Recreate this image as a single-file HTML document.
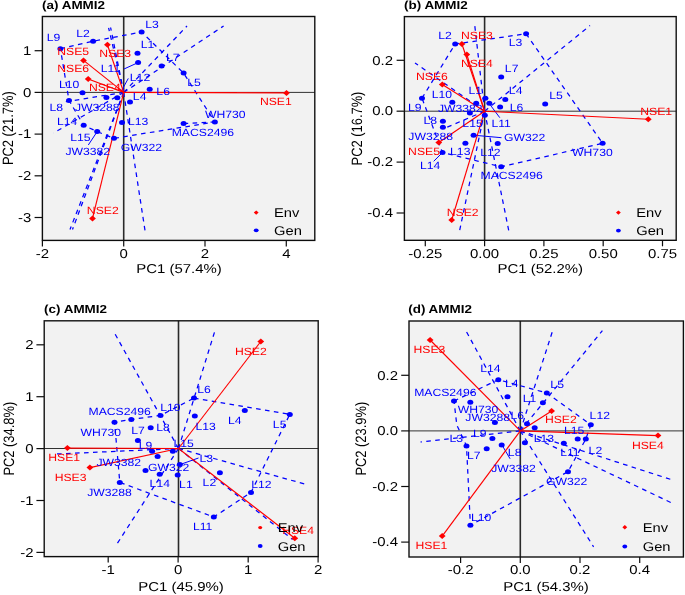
<!DOCTYPE html><html><head><meta charset="utf-8"><style>html,body{margin:0;padding:0;background:#fff;}svg{display:block;will-change:transform;font-family:"Liberation Sans",sans-serif;-webkit-font-smoothing:antialiased;}text{text-rendering:geometricPrecision;}</style></head><body>
<svg width="685" height="595" viewBox="0 0 685 595">
<defs><filter id="bl" filterUnits="userSpaceOnUse" x="0" y="0" width="685" height="595"><feGaussianBlur stdDeviation="0.35"/></filter></defs>
<rect width="685" height="595" fill="#fff"/>
<g filter="url(#bl)">
<rect x="42.4" y="16.5" width="272.40000000000003" height="223.9" fill="#f2f2f2"/>
<line x1="42.4" y1="92.4" x2="314.8" y2="92.4" stroke="#333" stroke-width="1.0"/>
<line x1="123.7" y1="16.5" x2="123.7" y2="240.4" stroke="#2a2a2a" stroke-width="1.6"/>
<polyline points="123.7,92.4 187.0,26.0" fill="none" stroke="#0000ff" stroke-width="1.25" stroke-dasharray="4.6 4.4"/>
<polyline points="123.7,92.4 223.6,26.0" fill="none" stroke="#0000ff" stroke-width="1.25" stroke-dasharray="4.6 4.4"/>
<polyline points="123.7,92.4 110.6,27.5" fill="none" stroke="#0000ff" stroke-width="1.25" stroke-dasharray="4.6 4.4"/>
<polyline points="123.7,92.4 108.6,27.8" fill="none" stroke="#0000ff" stroke-width="1.25" stroke-dasharray="4.6 4.4"/>
<polyline points="123.7,92.4 53.5,133.0" fill="none" stroke="#0000ff" stroke-width="1.25" stroke-dasharray="4.6 4.4"/>
<polyline points="123.7,92.4 64.0,102.0" fill="none" stroke="#0000ff" stroke-width="1.25" stroke-dasharray="4.6 4.4"/>
<polyline points="123.7,92.4 72.5,229.5" fill="none" stroke="#0000ff" stroke-width="1.25" stroke-dasharray="4.6 4.4"/>
<polyline points="123.7,92.4 70.0,229.5" fill="none" stroke="#0000ff" stroke-width="1.25" stroke-dasharray="4.6 4.4"/>
<polyline points="123.7,92.4 145.0,230.4" fill="none" stroke="#0000ff" stroke-width="1.25" stroke-dasharray="4.6 4.4"/>
<polyline points="183.6,123.5 214.9,122.0" fill="none" stroke="#0000ff" stroke-width="1.25" stroke-dasharray="4.6 4.4"/>
<polyline points="60.4,48.7 93.1,41.2 141.6,32.0 183.6,73.1 214.9,122.0 114.0,138.3 97.2,131.6 83.7,125.3 69.0,100.4 60.4,48.7" fill="none" stroke="#0000ff" stroke-width="1.25" stroke-dasharray="4.6 4.4"/>
<polyline points="124.0,69.0 138.1,62.6" fill="none" stroke="#0000ff" stroke-width="1.0"/>
<polyline points="97.2,131.6 88.3,145.0" fill="none" stroke="#0000ff" stroke-width="1.0"/>
<polyline points="121.8,90.2 128.3,78.4" fill="none" stroke="#0000ff" stroke-width="1.0"/>
<line x1="123.7" y1="92.4" x2="286.5" y2="92.9" stroke="#ff0000" stroke-width="1.15"/>
<line x1="123.7" y1="92.4" x2="92.5" y2="218.4" stroke="#ff0000" stroke-width="1.15"/>
<line x1="123.7" y1="92.4" x2="107.4" y2="44.7" stroke="#ff0000" stroke-width="1.15"/>
<line x1="123.7" y1="92.4" x2="83.5" y2="60.4" stroke="#ff0000" stroke-width="1.15"/>
<line x1="123.7" y1="92.4" x2="88.2" y2="79.0" stroke="#ff0000" stroke-width="1.15"/>
<line x1="123.7" y1="92.4" x2="119.0" y2="89.0" stroke="#ff0000" stroke-width="1.15"/>
<path d="M283.1,92.9L286.5,89.9L289.9,92.9L286.5,95.9Z" fill="#ff0000"/>
<path d="M89.1,218.4L92.5,215.4L95.9,218.4L92.5,221.4Z" fill="#ff0000"/>
<path d="M104.0,44.7L107.4,41.7L110.8,44.7L107.4,47.7Z" fill="#ff0000"/>
<path d="M80.1,60.4L83.5,57.4L86.9,60.4L83.5,63.4Z" fill="#ff0000"/>
<path d="M84.8,79.0L88.2,76.0L91.6,79.0L88.2,82.0Z" fill="#ff0000"/>
<ellipse cx="60.4" cy="48.7" rx="3.0" ry="2.5" fill="#0000ff"/>
<ellipse cx="93.1" cy="41.2" rx="3.0" ry="2.5" fill="#0000ff"/>
<ellipse cx="141.6" cy="32.0" rx="3.0" ry="2.5" fill="#0000ff"/>
<ellipse cx="137.5" cy="53.2" rx="3.0" ry="2.5" fill="#0000ff"/>
<ellipse cx="138.1" cy="62.6" rx="3.0" ry="2.5" fill="#0000ff"/>
<ellipse cx="161.6" cy="66.1" rx="3.0" ry="2.5" fill="#0000ff"/>
<ellipse cx="183.6" cy="73.1" rx="3.0" ry="2.5" fill="#0000ff"/>
<ellipse cx="82.5" cy="92.7" rx="3.0" ry="2.5" fill="#0000ff"/>
<ellipse cx="149.7" cy="89.2" rx="3.0" ry="2.5" fill="#0000ff"/>
<ellipse cx="69.0" cy="100.4" rx="3.0" ry="2.5" fill="#0000ff"/>
<ellipse cx="106.4" cy="97.4" rx="3.0" ry="2.5" fill="#0000ff"/>
<ellipse cx="117.3" cy="97.8" rx="3.0" ry="2.5" fill="#0000ff"/>
<ellipse cx="130.0" cy="101.9" rx="3.0" ry="2.5" fill="#0000ff"/>
<ellipse cx="83.7" cy="125.3" rx="3.0" ry="2.5" fill="#0000ff"/>
<ellipse cx="122.0" cy="122.5" rx="3.0" ry="2.5" fill="#0000ff"/>
<ellipse cx="97.2" cy="131.6" rx="3.0" ry="2.5" fill="#0000ff"/>
<ellipse cx="114.0" cy="138.3" rx="3.0" ry="2.5" fill="#0000ff"/>
<ellipse cx="183.6" cy="123.5" rx="3.0" ry="2.5" fill="#0000ff"/>
<ellipse cx="214.9" cy="122.0" rx="3.0" ry="2.5" fill="#0000ff"/>
<text transform="scale(1.16,1)" x="46.12" y="41.1" font-size="10.5" fill="#0000ff" text-anchor="middle">L9</text>
<text transform="scale(1.16,1)" x="71.47" y="37.0" font-size="10.5" fill="#0000ff" text-anchor="middle">L2</text>
<text transform="scale(1.16,1)" x="131.12" y="27.8" font-size="10.5" fill="#0000ff" text-anchor="middle">L3</text>
<text transform="scale(1.16,1)" x="127.16" y="48.2" font-size="10.5" fill="#0000ff" text-anchor="middle">L1</text>
<text transform="scale(1.16,1)" x="95.26" y="71.7" font-size="10.5" fill="#0000ff" text-anchor="middle">L11</text>
<text transform="scale(1.16,1)" x="120.69" y="80.9" font-size="10.5" fill="#0000ff" text-anchor="middle">L12</text>
<text transform="scale(1.16,1)" x="59.57" y="88.1" font-size="10.5" fill="#0000ff" text-anchor="middle">L10</text>
<text transform="scale(1.16,1)" x="140.65" y="95.2" font-size="10.5" fill="#0000ff" text-anchor="middle">L6</text>
<text transform="scale(1.16,1)" x="48.58" y="110.5" font-size="10.5" fill="#0000ff" text-anchor="middle">L8</text>
<text transform="scale(1.16,1)" x="83.84" y="110.5" font-size="10.5" fill="#0000ff" text-anchor="middle">JW3288</text>
<text transform="scale(1.16,1)" x="120.39" y="100.4" font-size="10.5" fill="#0000ff" text-anchor="middle">L4</text>
<text transform="scale(1.16,1)" x="57.84" y="124.9" font-size="10.5" fill="#0000ff" text-anchor="middle">L14</text>
<text transform="scale(1.16,1)" x="119.05" y="124.9" font-size="10.5" fill="#0000ff" text-anchor="middle">L13</text>
<text transform="scale(1.16,1)" x="149.01" y="60.5" font-size="10.5" fill="#0000ff" text-anchor="middle">L7</text>
<text transform="scale(1.16,1)" x="167.33" y="85.8" font-size="10.5" fill="#0000ff" text-anchor="middle">L5</text>
<text transform="scale(1.16,1)" x="194.18" y="117.5" font-size="10.5" fill="#0000ff" text-anchor="middle">WH730</text>
<text transform="scale(1.16,1)" x="174.87" y="136.3" font-size="10.5" fill="#0000ff" text-anchor="middle">MACS2496</text>
<text transform="scale(1.16,1)" x="69.40" y="140.5" font-size="10.5" fill="#0000ff" text-anchor="middle">L15</text>
<text transform="scale(1.16,1)" x="75.69" y="155.2" font-size="10.5" fill="#0000ff" text-anchor="middle">JW3382</text>
<text transform="scale(1.16,1)" x="121.98" y="151.0" font-size="10.5" fill="#0000ff" text-anchor="middle">GW322</text>
<text transform="scale(1.16,1)" x="99.27" y="56.5" font-size="10.5" fill="#ff0000" text-anchor="middle">NSE3</text>
<text transform="scale(1.16,1)" x="63.10" y="55.4" font-size="10.5" fill="#ff0000" text-anchor="middle">NSE5</text>
<text transform="scale(1.16,1)" x="63.10" y="71.7" font-size="10.5" fill="#ff0000" text-anchor="middle">NSE6</text>
<text transform="scale(1.16,1)" x="90.39" y="90.8" font-size="10.5" fill="#ff0000" text-anchor="middle">NSE4</text>
<text transform="scale(1.16,1)" x="237.80" y="105.0" font-size="10.5" fill="#ff0000" text-anchor="middle">NSE1</text>
<text transform="scale(1.16,1)" x="88.58" y="214.1" font-size="10.5" fill="#ff0000" text-anchor="middle">NSE2</text>
<rect x="42.4" y="16.5" width="272.40000000000003" height="223.9" fill="none" stroke="#111" stroke-width="1.4"/>
<line x1="42.4" y1="240.4" x2="42.4" y2="246.4" stroke="#111" stroke-width="1.2"/>
<text transform="scale(1.16,1)" x="36.55" y="257.7" font-size="12.9" fill="#000" text-anchor="middle">-2</text>
<line x1="123.7" y1="240.4" x2="123.7" y2="246.4" stroke="#111" stroke-width="1.2"/>
<text transform="scale(1.16,1)" x="106.64" y="257.7" font-size="12.9" fill="#000" text-anchor="middle">0</text>
<line x1="205.0" y1="240.4" x2="205.0" y2="246.4" stroke="#111" stroke-width="1.2"/>
<text transform="scale(1.16,1)" x="176.72" y="257.7" font-size="12.9" fill="#000" text-anchor="middle">2</text>
<line x1="286.3" y1="240.4" x2="286.3" y2="246.4" stroke="#111" stroke-width="1.2"/>
<text transform="scale(1.16,1)" x="246.81" y="257.7" font-size="12.9" fill="#000" text-anchor="middle">4</text>
<line x1="34.6" y1="50.7" x2="42.4" y2="50.7" stroke="#111" stroke-width="1.2"/>
<text transform="scale(1.16,1)" x="26.98" y="54.9" font-size="12.9" fill="#000" text-anchor="end">1</text>
<line x1="34.6" y1="92.4" x2="42.4" y2="92.4" stroke="#111" stroke-width="1.2"/>
<text transform="scale(1.16,1)" x="26.98" y="96.6" font-size="12.9" fill="#000" text-anchor="end">0</text>
<line x1="34.6" y1="134.1" x2="42.4" y2="134.1" stroke="#111" stroke-width="1.2"/>
<text transform="scale(1.16,1)" x="26.98" y="138.3" font-size="12.9" fill="#000" text-anchor="end">-1</text>
<line x1="34.6" y1="175.8" x2="42.4" y2="175.8" stroke="#111" stroke-width="1.2"/>
<text transform="scale(1.16,1)" x="26.98" y="180.0" font-size="12.9" fill="#000" text-anchor="end">-2</text>
<line x1="34.6" y1="217.5" x2="42.4" y2="217.5" stroke="#111" stroke-width="1.2"/>
<text transform="scale(1.16,1)" x="26.98" y="221.7" font-size="12.9" fill="#000" text-anchor="end">-3</text>
<text transform="scale(1.16,1)" x="36.21" y="8.5" font-size="11.6" font-weight="bold" fill="#000" text-anchor="start">(a) AMMI2</text>
<text transform="scale(1.16,1)" x="154.31" y="272.5" font-size="12.9" fill="#000" text-anchor="middle">PC1 (57.4%)</text>
<text transform="translate(12.5,128.2) scale(1.16,1) rotate(-90)" x="0" y="0" font-size="12.9" fill="#000" text-anchor="middle">PC2 (21.7%)</text>
<path d="M253.8,212.6L256.2,210.4L258.6,212.6L256.2,214.8Z" fill="#ff0000"/>
<ellipse cx="256.2" cy="230.3" rx="2.4" ry="1.9" fill="#0000ff"/>
<text transform="scale(1.16,1)" x="236.21" y="217.2" font-size="12.7" fill="#000" text-anchor="start">Env</text>
<text transform="scale(1.16,1)" x="236.21" y="234.9" font-size="12.7" fill="#000" text-anchor="start">Gen</text>
<rect x="404.4" y="16.6" width="271.80000000000007" height="223.70000000000002" fill="#f2f2f2"/>
<line x1="404.4" y1="111.2" x2="676.2" y2="111.2" stroke="#333" stroke-width="1.0"/>
<line x1="484.6" y1="16.6" x2="484.6" y2="240.3" stroke="#2a2a2a" stroke-width="1.6"/>
<polyline points="484.6,111.2 590.0,25.6" fill="none" stroke="#0000ff" stroke-width="1.25" stroke-dasharray="4.6 4.4"/>
<polyline points="484.6,111.2 474.7,25.0" fill="none" stroke="#0000ff" stroke-width="1.25" stroke-dasharray="4.6 4.4"/>
<polyline points="484.6,111.2 415.0,63.0" fill="none" stroke="#0000ff" stroke-width="1.25" stroke-dasharray="4.6 4.4"/>
<polyline points="484.6,111.2 459.7,230.3" fill="none" stroke="#0000ff" stroke-width="1.25" stroke-dasharray="4.6 4.4"/>
<polyline points="484.6,111.2 508.7,230.3" fill="none" stroke="#0000ff" stroke-width="1.25" stroke-dasharray="4.6 4.4"/>
<polyline points="484.6,111.2 444.0,128.5" fill="none" stroke="#0000ff" stroke-width="1.25" stroke-dasharray="4.6 4.4"/>
<polyline points="489.1,103.4 499.8,117.7" fill="none" stroke="#0000ff" stroke-width="1.0"/>
<polyline points="473.5,135.2 501.5,137.7" fill="none" stroke="#0000ff" stroke-width="1.0"/>
<polyline points="442.5,152.5 433.7,161.3" fill="none" stroke="#0000ff" stroke-width="1.0"/>
<polyline points="422.0,98.2 455.2,44.0 526.1,33.8 602.6,143.3 501.2,166.8 442.5,152.5 422.0,98.2" fill="none" stroke="#0000ff" stroke-width="1.25" stroke-dasharray="4.6 4.4"/>
<line x1="484.6" y1="111.2" x2="461.9" y2="44.0" stroke="#ff0000" stroke-width="1.15"/>
<path d="M458.5,44.0L461.9,41.0L465.3,44.0L461.9,47.0Z" fill="#ff0000"/>
<line x1="484.6" y1="111.2" x2="466.8" y2="54.5" stroke="#ff0000" stroke-width="1.15"/>
<path d="M463.4,54.5L466.8,51.5L470.2,54.5L466.8,57.5Z" fill="#ff0000"/>
<line x1="484.6" y1="111.2" x2="442.3" y2="84.5" stroke="#ff0000" stroke-width="1.15"/>
<path d="M438.9,84.5L442.3,81.5L445.7,84.5L442.3,87.5Z" fill="#ff0000"/>
<line x1="484.6" y1="111.2" x2="648.3" y2="119.2" stroke="#ff0000" stroke-width="1.15"/>
<path d="M644.9,119.2L648.3,116.2L651.7,119.2L648.3,122.2Z" fill="#ff0000"/>
<line x1="484.6" y1="111.2" x2="438.8" y2="142.5" stroke="#ff0000" stroke-width="1.15"/>
<path d="M435.4,142.5L438.8,139.5L442.2,142.5L438.8,145.5Z" fill="#ff0000"/>
<line x1="484.6" y1="111.2" x2="451.7" y2="220.0" stroke="#ff0000" stroke-width="1.15"/>
<path d="M448.3,220.0L451.7,217.0L455.1,220.0L451.7,223.0Z" fill="#ff0000"/>
<ellipse cx="455.2" cy="44.0" rx="3.0" ry="2.5" fill="#0000ff"/>
<ellipse cx="526.1" cy="33.8" rx="3.0" ry="2.5" fill="#0000ff"/>
<ellipse cx="501.2" cy="77.0" rx="3.0" ry="2.5" fill="#0000ff"/>
<ellipse cx="452.3" cy="102.3" rx="3.0" ry="2.5" fill="#0000ff"/>
<ellipse cx="422.0" cy="98.2" rx="3.0" ry="2.5" fill="#0000ff"/>
<ellipse cx="485.4" cy="98.2" rx="3.0" ry="2.5" fill="#0000ff"/>
<ellipse cx="505.3" cy="99.4" rx="3.0" ry="2.5" fill="#0000ff"/>
<ellipse cx="489.3" cy="103.3" rx="3.0" ry="2.5" fill="#0000ff"/>
<ellipse cx="476.2" cy="103.3" rx="3.0" ry="2.5" fill="#0000ff"/>
<ellipse cx="500.1" cy="107.0" rx="3.0" ry="2.5" fill="#0000ff"/>
<ellipse cx="469.9" cy="113.1" rx="3.0" ry="2.5" fill="#0000ff"/>
<ellipse cx="442.9" cy="121.3" rx="3.0" ry="2.5" fill="#0000ff"/>
<ellipse cx="442.9" cy="127.2" rx="3.0" ry="2.5" fill="#0000ff"/>
<ellipse cx="442.5" cy="152.5" rx="3.0" ry="2.5" fill="#0000ff"/>
<ellipse cx="465.4" cy="143.3" rx="3.0" ry="2.5" fill="#0000ff"/>
<ellipse cx="473.6" cy="135.2" rx="3.0" ry="2.5" fill="#0000ff"/>
<ellipse cx="484.8" cy="115.3" rx="3.0" ry="2.5" fill="#0000ff"/>
<ellipse cx="497.7" cy="143.5" rx="3.0" ry="2.5" fill="#0000ff"/>
<ellipse cx="501.2" cy="166.8" rx="3.0" ry="2.5" fill="#0000ff"/>
<ellipse cx="602.6" cy="143.3" rx="3.0" ry="2.5" fill="#0000ff"/>
<ellipse cx="545.2" cy="104.0" rx="3.0" ry="2.5" fill="#0000ff"/>
<text transform="scale(1.16,1)" x="383.58" y="39.0" font-size="10.5" fill="#0000ff" text-anchor="middle">L2</text>
<text transform="scale(1.16,1)" x="444.40" y="46.2" font-size="10.5" fill="#0000ff" text-anchor="middle">L3</text>
<text transform="scale(1.16,1)" x="441.08" y="71.7" font-size="10.5" fill="#0000ff" text-anchor="middle">L7</text>
<text transform="scale(1.16,1)" x="380.95" y="97.7" font-size="10.5" fill="#0000ff" text-anchor="middle">L10</text>
<text transform="scale(1.16,1)" x="357.63" y="111.0" font-size="10.5" fill="#0000ff" text-anchor="middle">L9</text>
<text transform="scale(1.16,1)" x="409.74" y="94.2" font-size="10.5" fill="#0000ff" text-anchor="middle">L1</text>
<text transform="scale(1.16,1)" x="444.53" y="94.2" font-size="10.5" fill="#0000ff" text-anchor="middle">L4</text>
<text transform="scale(1.16,1)" x="445.26" y="110.5" font-size="10.5" fill="#0000ff" text-anchor="middle">L6</text>
<text transform="scale(1.16,1)" x="396.81" y="111.5" font-size="10.5" fill="#0000ff" text-anchor="middle">JW3382</text>
<text transform="scale(1.16,1)" x="371.03" y="123.6" font-size="10.5" fill="#0000ff" text-anchor="middle">L8</text>
<text transform="scale(1.16,1)" x="479.27" y="98.6" font-size="10.5" fill="#0000ff" text-anchor="middle">L5</text>
<text transform="scale(1.16,1)" x="371.25" y="140.4" font-size="10.5" fill="#0000ff" text-anchor="middle">JW3288</text>
<text transform="scale(1.16,1)" x="370.82" y="169.4" font-size="10.5" fill="#0000ff" text-anchor="middle">L14</text>
<text transform="scale(1.16,1)" x="396.77" y="155.1" font-size="10.5" fill="#0000ff" text-anchor="middle">L13</text>
<text transform="scale(1.16,1)" x="407.37" y="127.1" font-size="10.5" fill="#0000ff" text-anchor="middle">L15</text>
<text transform="scale(1.16,1)" x="432.07" y="127.1" font-size="10.5" fill="#0000ff" text-anchor="middle">L11</text>
<text transform="scale(1.16,1)" x="452.37" y="141.4" font-size="10.5" fill="#0000ff" text-anchor="middle">GW322</text>
<text transform="scale(1.16,1)" x="422.76" y="155.7" font-size="10.5" fill="#0000ff" text-anchor="middle">L12</text>
<text transform="scale(1.16,1)" x="441.12" y="179.2" font-size="10.5" fill="#0000ff" text-anchor="middle">MACS2496</text>
<text transform="scale(1.16,1)" x="510.69" y="155.7" font-size="10.5" fill="#0000ff" text-anchor="middle">WH730</text>
<text transform="scale(1.16,1)" x="411.16" y="39.0" font-size="10.5" fill="#ff0000" text-anchor="middle">NSE3</text>
<text transform="scale(1.16,1)" x="411.16" y="67.0" font-size="10.5" fill="#ff0000" text-anchor="middle">NSE4</text>
<text transform="scale(1.16,1)" x="372.41" y="79.9" font-size="10.5" fill="#ff0000" text-anchor="middle">NSE6</text>
<text transform="scale(1.16,1)" x="565.65" y="114.7" font-size="10.5" fill="#ff0000" text-anchor="middle">NSE1</text>
<text transform="scale(1.16,1)" x="365.56" y="155.1" font-size="10.5" fill="#ff0000" text-anchor="middle">NSE5</text>
<text transform="scale(1.16,1)" x="398.92" y="215.8" font-size="10.5" fill="#ff0000" text-anchor="middle">NSE2</text>
<rect x="404.4" y="16.6" width="271.80000000000007" height="223.70000000000002" fill="none" stroke="#111" stroke-width="1.4"/>
<line x1="425.3" y1="240.3" x2="425.3" y2="246.3" stroke="#111" stroke-width="1.2"/>
<text transform="scale(1.16,1)" x="366.64" y="257.6" font-size="12.9" fill="#000" text-anchor="middle">-0.25</text>
<line x1="484.6" y1="240.3" x2="484.6" y2="246.3" stroke="#111" stroke-width="1.2"/>
<text transform="scale(1.16,1)" x="417.76" y="257.6" font-size="12.9" fill="#000" text-anchor="middle">0.00</text>
<line x1="543.9" y1="240.3" x2="543.9" y2="246.3" stroke="#111" stroke-width="1.2"/>
<text transform="scale(1.16,1)" x="468.88" y="257.6" font-size="12.9" fill="#000" text-anchor="middle">0.25</text>
<line x1="603.2" y1="240.3" x2="603.2" y2="246.3" stroke="#111" stroke-width="1.2"/>
<text transform="scale(1.16,1)" x="520.00" y="257.6" font-size="12.9" fill="#000" text-anchor="middle">0.50</text>
<line x1="662.5" y1="240.3" x2="662.5" y2="246.3" stroke="#111" stroke-width="1.2"/>
<text transform="scale(1.16,1)" x="571.12" y="257.6" font-size="12.9" fill="#000" text-anchor="middle">0.75</text>
<line x1="396.6" y1="60.3" x2="404.4" y2="60.3" stroke="#111" stroke-width="1.2"/>
<text transform="scale(1.16,1)" x="338.79" y="64.5" font-size="12.9" fill="#000" text-anchor="end">0.2</text>
<line x1="396.6" y1="111.2" x2="404.4" y2="111.2" stroke="#111" stroke-width="1.2"/>
<text transform="scale(1.16,1)" x="338.79" y="115.4" font-size="12.9" fill="#000" text-anchor="end">0.0</text>
<line x1="396.6" y1="162.1" x2="404.4" y2="162.1" stroke="#111" stroke-width="1.2"/>
<text transform="scale(1.16,1)" x="338.79" y="166.3" font-size="12.9" fill="#000" text-anchor="end">-0.2</text>
<line x1="396.6" y1="213.0" x2="404.4" y2="213.0" stroke="#111" stroke-width="1.2"/>
<text transform="scale(1.16,1)" x="338.79" y="217.2" font-size="12.9" fill="#000" text-anchor="end">-0.4</text>
<text transform="scale(1.16,1)" x="348.28" y="8.5" font-size="11.6" font-weight="bold" fill="#000" text-anchor="start">(b) AMMI2</text>
<text transform="scale(1.16,1)" x="465.78" y="272.5" font-size="12.9" fill="#000" text-anchor="middle">PC1 (52.2%)</text>
<text transform="translate(361.8,128.5) scale(1.16,1) rotate(-90)" x="0" y="0" font-size="12.9" fill="#000" text-anchor="middle">PC2 (16.7%)</text>
<path d="M616.0,212.6L618.4,210.4L620.8,212.6L618.4,214.8Z" fill="#ff0000"/>
<ellipse cx="618.4" cy="230.6" rx="2.4" ry="1.9" fill="#0000ff"/>
<text transform="scale(1.16,1)" x="548.45" y="217.2" font-size="12.7" fill="#000" text-anchor="start">Env</text>
<text transform="scale(1.16,1)" x="548.45" y="235.2" font-size="12.7" fill="#000" text-anchor="start">Gen</text>
<rect x="44.2" y="320.8" width="274.0" height="235.8" fill="#f2f2f2"/>
<line x1="44.2" y1="448.5" x2="318.2" y2="448.5" stroke="#333" stroke-width="1.0"/>
<line x1="178.5" y1="320.8" x2="178.5" y2="556.6" stroke="#2a2a2a" stroke-width="1.6"/>
<polyline points="178.5,448.5 113.5,331.2" fill="none" stroke="#0000ff" stroke-width="1.25" stroke-dasharray="4.6 4.4"/>
<polyline points="178.5,448.5 214.8,331.2" fill="none" stroke="#0000ff" stroke-width="1.25" stroke-dasharray="4.6 4.4"/>
<polyline points="178.5,448.5 307.7,484.9" fill="none" stroke="#0000ff" stroke-width="1.25" stroke-dasharray="4.6 4.4"/>
<polyline points="178.5,448.5 292.6,539.5" fill="none" stroke="#0000ff" stroke-width="1.25" stroke-dasharray="4.6 4.4"/>
<polyline points="178.5,448.5 115.4,546.4" fill="none" stroke="#0000ff" stroke-width="1.25" stroke-dasharray="4.6 4.4"/>
<polyline points="178.5,448.5 57.0,454.0" fill="none" stroke="#0000ff" stroke-width="1.25" stroke-dasharray="4.6 4.4"/>
<polyline points="179.9,464.6 198.5,458.0" fill="none" stroke="#0000ff" stroke-width="1.0"/>
<polyline points="194.0,398.1 289.8,414.4 251.0,492.4 213.8,517.0 119.8,482.4 116.0,438.7 114.5,422.2 131.3,419.5 160.5,415.4 194.0,398.1" fill="none" stroke="#0000ff" stroke-width="1.25" stroke-dasharray="4.6 4.4"/>
<line x1="178.5" y1="448.5" x2="260.8" y2="341.5" stroke="#ff0000" stroke-width="1.15"/>
<path d="M257.4,341.5L260.8,338.5L264.2,341.5L260.8,344.5Z" fill="#ff0000"/>
<line x1="178.5" y1="448.5" x2="67.4" y2="448.1" stroke="#ff0000" stroke-width="1.15"/>
<path d="M64.0,448.1L67.4,445.1L70.8,448.1L67.4,451.1Z" fill="#ff0000"/>
<line x1="178.5" y1="448.5" x2="89.9" y2="467.6" stroke="#ff0000" stroke-width="1.15"/>
<path d="M86.5,467.6L89.9,464.6L93.3,467.6L89.9,470.6Z" fill="#ff0000"/>
<line x1="178.5" y1="448.5" x2="294.8" y2="538.2" stroke="#ff0000" stroke-width="1.15"/>
<path d="M291.4,538.2L294.8,535.2L298.2,538.2L294.8,541.2Z" fill="#ff0000"/>
<ellipse cx="131.3" cy="419.5" rx="3.0" ry="2.5" fill="#0000ff"/>
<ellipse cx="160.5" cy="415.4" rx="3.0" ry="2.5" fill="#0000ff"/>
<ellipse cx="114.5" cy="422.2" rx="3.0" ry="2.5" fill="#0000ff"/>
<ellipse cx="137.9" cy="440.5" rx="3.0" ry="2.5" fill="#0000ff"/>
<ellipse cx="150.7" cy="427.7" rx="3.0" ry="2.5" fill="#0000ff"/>
<ellipse cx="194.0" cy="398.1" rx="3.0" ry="2.5" fill="#0000ff"/>
<ellipse cx="194.8" cy="416.0" rx="3.0" ry="2.5" fill="#0000ff"/>
<ellipse cx="244.8" cy="410.5" rx="3.0" ry="2.5" fill="#0000ff"/>
<ellipse cx="289.8" cy="414.4" rx="3.0" ry="2.5" fill="#0000ff"/>
<ellipse cx="152.1" cy="451.2" rx="3.0" ry="2.5" fill="#0000ff"/>
<ellipse cx="157.6" cy="456.6" rx="3.0" ry="2.5" fill="#0000ff"/>
<ellipse cx="172.8" cy="451.2" rx="3.0" ry="2.5" fill="#0000ff"/>
<ellipse cx="145.5" cy="470.4" rx="3.0" ry="2.5" fill="#0000ff"/>
<ellipse cx="159.7" cy="474.3" rx="3.0" ry="2.5" fill="#0000ff"/>
<ellipse cx="177.7" cy="474.9" rx="3.0" ry="2.5" fill="#0000ff"/>
<ellipse cx="119.8" cy="482.4" rx="3.0" ry="2.5" fill="#0000ff"/>
<ellipse cx="179.9" cy="464.6" rx="3.0" ry="2.5" fill="#0000ff"/>
<ellipse cx="219.9" cy="472.7" rx="3.0" ry="2.5" fill="#0000ff"/>
<ellipse cx="251.0" cy="492.4" rx="3.0" ry="2.5" fill="#0000ff"/>
<ellipse cx="213.8" cy="517.0" rx="3.0" ry="2.5" fill="#0000ff"/>
<text transform="scale(1.16,1)" x="103.15" y="415.1" font-size="10.5" fill="#0000ff" text-anchor="middle">MACS2496</text>
<text transform="scale(1.16,1)" x="146.98" y="411.1" font-size="10.5" fill="#0000ff" text-anchor="middle">L10</text>
<text transform="scale(1.16,1)" x="175.91" y="393.1" font-size="10.5" fill="#0000ff" text-anchor="middle">L6</text>
<text transform="scale(1.16,1)" x="177.24" y="429.9" font-size="10.5" fill="#0000ff" text-anchor="middle">L13</text>
<text transform="scale(1.16,1)" x="202.33" y="424.1" font-size="10.5" fill="#0000ff" text-anchor="middle">L4</text>
<text transform="scale(1.16,1)" x="241.08" y="427.8" font-size="10.5" fill="#0000ff" text-anchor="middle">L5</text>
<text transform="scale(1.16,1)" x="86.94" y="436.0" font-size="10.5" fill="#0000ff" text-anchor="middle">WH730</text>
<text transform="scale(1.16,1)" x="118.97" y="433.9" font-size="10.5" fill="#0000ff" text-anchor="middle">L7</text>
<text transform="scale(1.16,1)" x="140.56" y="430.9" font-size="10.5" fill="#0000ff" text-anchor="middle">L8</text>
<text transform="scale(1.16,1)" x="125.43" y="449.2" font-size="10.5" fill="#0000ff" text-anchor="middle">L9</text>
<text transform="scale(1.16,1)" x="158.36" y="446.6" font-size="10.5" fill="#0000ff" text-anchor="middle">L15</text>
<text transform="scale(1.16,1)" x="102.41" y="465.5" font-size="10.5" fill="#0000ff" text-anchor="middle">JW3382</text>
<text transform="scale(1.16,1)" x="145.47" y="471.0" font-size="10.5" fill="#0000ff" text-anchor="middle">GW322</text>
<text transform="scale(1.16,1)" x="177.72" y="462.3" font-size="10.5" fill="#0000ff" text-anchor="middle">L3</text>
<text transform="scale(1.16,1)" x="137.76" y="487.4" font-size="10.5" fill="#0000ff" text-anchor="middle">L14</text>
<text transform="scale(1.16,1)" x="160.26" y="487.5" font-size="10.5" fill="#0000ff" text-anchor="middle">L1</text>
<text transform="scale(1.16,1)" x="180.52" y="486.0" font-size="10.5" fill="#0000ff" text-anchor="middle">L2</text>
<text transform="scale(1.16,1)" x="225.43" y="487.5" font-size="10.5" fill="#0000ff" text-anchor="middle">L12</text>
<text transform="scale(1.16,1)" x="94.40" y="496.1" font-size="10.5" fill="#0000ff" text-anchor="middle">JW3288</text>
<text transform="scale(1.16,1)" x="174.66" y="529.8" font-size="10.5" fill="#0000ff" text-anchor="middle">L11</text>
<text transform="scale(1.16,1)" x="216.25" y="355.3" font-size="10.5" fill="#ff0000" text-anchor="middle">HSE2</text>
<text transform="scale(1.16,1)" x="55.34" y="461.2" font-size="10.5" fill="#ff0000" text-anchor="middle">HSE1</text>
<text transform="scale(1.16,1)" x="60.82" y="480.8" font-size="10.5" fill="#ff0000" text-anchor="middle">HSE3</text>
<text transform="scale(1.16,1)" x="256.98" y="533.5" font-size="10.5" fill="#ff0000" text-anchor="middle">HSE4</text>
<rect x="44.2" y="320.8" width="274.0" height="235.8" fill="none" stroke="#111" stroke-width="1.4"/>
<line x1="108.2" y1="556.6" x2="108.2" y2="562.6" stroke="#111" stroke-width="1.2"/>
<text transform="scale(1.16,1)" x="93.28" y="573.9" font-size="12.9" fill="#000" text-anchor="middle">-1</text>
<line x1="178.1" y1="556.6" x2="178.1" y2="562.6" stroke="#111" stroke-width="1.2"/>
<text transform="scale(1.16,1)" x="153.53" y="573.9" font-size="12.9" fill="#000" text-anchor="middle">0</text>
<line x1="248.2" y1="556.6" x2="248.2" y2="562.6" stroke="#111" stroke-width="1.2"/>
<text transform="scale(1.16,1)" x="213.97" y="573.9" font-size="12.9" fill="#000" text-anchor="middle">1</text>
<line x1="318.1" y1="556.6" x2="318.1" y2="562.6" stroke="#111" stroke-width="1.2"/>
<text transform="scale(1.16,1)" x="274.22" y="573.9" font-size="12.9" fill="#000" text-anchor="middle">2</text>
<line x1="36.4" y1="344.8" x2="44.2" y2="344.8" stroke="#111" stroke-width="1.2"/>
<text transform="scale(1.16,1)" x="28.88" y="349.0" font-size="12.9" fill="#000" text-anchor="end">2</text>
<line x1="36.4" y1="396.7" x2="44.2" y2="396.7" stroke="#111" stroke-width="1.2"/>
<text transform="scale(1.16,1)" x="28.88" y="400.9" font-size="12.9" fill="#000" text-anchor="end">1</text>
<line x1="36.4" y1="448.6" x2="44.2" y2="448.6" stroke="#111" stroke-width="1.2"/>
<text transform="scale(1.16,1)" x="28.88" y="452.8" font-size="12.9" fill="#000" text-anchor="end">0</text>
<line x1="36.4" y1="500.5" x2="44.2" y2="500.5" stroke="#111" stroke-width="1.2"/>
<text transform="scale(1.16,1)" x="28.88" y="504.7" font-size="12.9" fill="#000" text-anchor="end">-1</text>
<line x1="36.4" y1="552.4" x2="44.2" y2="552.4" stroke="#111" stroke-width="1.2"/>
<text transform="scale(1.16,1)" x="28.88" y="556.6" font-size="12.9" fill="#000" text-anchor="end">-2</text>
<text transform="scale(1.16,1)" x="37.93" y="312.6" font-size="11.6" font-weight="bold" fill="#000" text-anchor="start">(c) AMMI2</text>
<text transform="scale(1.16,1)" x="156.03" y="590.5" font-size="12.9" fill="#000" text-anchor="middle">PC1 (45.9%)</text>
<text transform="translate(13.5,438.7) scale(1.16,1) rotate(-90)" x="0" y="0" font-size="12.9" fill="#000" text-anchor="middle">PC2 (34.8%)</text>
<ellipse cx="260.2" cy="527.6" rx="2.0" ry="1.7" fill="#ff0000"/>
<ellipse cx="260.2" cy="546.0" rx="2.4" ry="1.9" fill="#0000ff"/>
<text transform="scale(1.16,1)" x="239.40" y="532.2" font-size="12.7" fill="#000" text-anchor="start">Env</text>
<text transform="scale(1.16,1)" x="239.40" y="550.6" font-size="12.7" fill="#000" text-anchor="start">Gen</text>
<rect x="409" y="321" width="274.4" height="236" fill="#f2f2f2"/>
<line x1="409.0" y1="430.9" x2="683.4" y2="430.9" stroke="#333" stroke-width="1.0"/>
<line x1="520.3" y1="321.0" x2="520.3" y2="557.0" stroke="#2a2a2a" stroke-width="1.6"/>
<polyline points="520.3,430.9 466.2,331.2" fill="none" stroke="#0000ff" stroke-width="1.25" stroke-dasharray="4.6 4.4"/>
<polyline points="520.3,430.9 552.7,330.6" fill="none" stroke="#0000ff" stroke-width="1.25" stroke-dasharray="4.6 4.4"/>
<polyline points="520.3,430.9 602.4,330.6" fill="none" stroke="#0000ff" stroke-width="1.25" stroke-dasharray="4.6 4.4"/>
<polyline points="520.3,430.9 671.6,479.7" fill="none" stroke="#0000ff" stroke-width="1.25" stroke-dasharray="4.6 4.4"/>
<polyline points="520.3,430.9 671.6,502.9" fill="none" stroke="#0000ff" stroke-width="1.25" stroke-dasharray="4.6 4.4"/>
<polyline points="520.3,430.9 593.6,546.8" fill="none" stroke="#0000ff" stroke-width="1.25" stroke-dasharray="4.6 4.4"/>
<polyline points="520.3,430.9 420.5,442.0" fill="none" stroke="#0000ff" stroke-width="1.25" stroke-dasharray="4.6 4.4"/>
<polyline points="501.8,444.7 510.1,458.8" fill="none" stroke="#0000ff" stroke-width="1.0"/>
<polyline points="454.0,401.0 498.3,379.7 546.8,393.0 590.8,424.8 585.8,439.0 568.0,471.7 470.4,525.3 466.5,445.9 456.8,425.0 454.0,401.0" fill="none" stroke="#0000ff" stroke-width="1.25" stroke-dasharray="4.6 4.4"/>
<line x1="520.3" y1="430.9" x2="430.1" y2="340.0" stroke="#ff0000" stroke-width="1.15"/>
<path d="M426.7,340.0L430.1,337.0L433.5,340.0L430.1,343.0Z" fill="#ff0000"/>
<line x1="520.3" y1="430.9" x2="551.6" y2="411.0" stroke="#ff0000" stroke-width="1.15"/>
<path d="M548.2,411.0L551.6,408.0L555.0,411.0L551.6,414.0Z" fill="#ff0000"/>
<line x1="520.3" y1="430.9" x2="658.0" y2="435.6" stroke="#ff0000" stroke-width="1.15"/>
<path d="M654.6,435.6L658.0,432.6L661.4,435.6L658.0,438.6Z" fill="#ff0000"/>
<line x1="520.3" y1="430.9" x2="442.2" y2="536.1" stroke="#ff0000" stroke-width="1.15"/>
<path d="M438.8,536.1L442.2,533.1L445.6,536.1L442.2,539.1Z" fill="#ff0000"/>
<ellipse cx="498.3" cy="379.7" rx="3.0" ry="2.5" fill="#0000ff"/>
<ellipse cx="507.5" cy="396.8" rx="3.0" ry="2.5" fill="#0000ff"/>
<ellipse cx="454.0" cy="401.0" rx="3.0" ry="2.5" fill="#0000ff"/>
<ellipse cx="470.3" cy="402.2" rx="3.0" ry="2.5" fill="#0000ff"/>
<ellipse cx="494.9" cy="422.6" rx="3.0" ry="2.5" fill="#0000ff"/>
<ellipse cx="527.0" cy="423.8" rx="3.0" ry="2.5" fill="#0000ff"/>
<ellipse cx="534.7" cy="427.7" rx="3.0" ry="2.5" fill="#0000ff"/>
<ellipse cx="542.9" cy="402.8" rx="3.0" ry="2.5" fill="#0000ff"/>
<ellipse cx="546.8" cy="393.0" rx="3.0" ry="2.5" fill="#0000ff"/>
<ellipse cx="590.8" cy="424.8" rx="3.0" ry="2.5" fill="#0000ff"/>
<ellipse cx="492.4" cy="438.6" rx="3.0" ry="2.5" fill="#0000ff"/>
<ellipse cx="466.5" cy="445.9" rx="3.0" ry="2.5" fill="#0000ff"/>
<ellipse cx="486.7" cy="448.8" rx="3.0" ry="2.5" fill="#0000ff"/>
<ellipse cx="501.7" cy="445.0" rx="3.0" ry="2.5" fill="#0000ff"/>
<ellipse cx="524.9" cy="442.7" rx="3.0" ry="2.5" fill="#0000ff"/>
<ellipse cx="470.4" cy="525.3" rx="3.0" ry="2.5" fill="#0000ff"/>
<ellipse cx="563.8" cy="443.2" rx="3.0" ry="2.5" fill="#0000ff"/>
<ellipse cx="577.7" cy="439.0" rx="3.0" ry="2.5" fill="#0000ff"/>
<ellipse cx="585.8" cy="439.0" rx="3.0" ry="2.5" fill="#0000ff"/>
<ellipse cx="568.0" cy="471.7" rx="3.0" ry="2.5" fill="#0000ff"/>
<text transform="scale(1.16,1)" x="422.84" y="371.6" font-size="10.5" fill="#0000ff" text-anchor="middle">L14</text>
<text transform="scale(1.16,1)" x="441.12" y="386.9" font-size="10.5" fill="#0000ff" text-anchor="middle">L4</text>
<text transform="scale(1.16,1)" x="383.88" y="396.1" font-size="10.5" fill="#0000ff" text-anchor="middle">MACS2496</text>
<text transform="scale(1.16,1)" x="412.07" y="412.5" font-size="10.5" fill="#0000ff" text-anchor="middle">WH730</text>
<text transform="scale(1.16,1)" x="420.43" y="421.3" font-size="10.5" fill="#0000ff" text-anchor="middle">JW3288</text>
<text transform="scale(1.16,1)" x="445.99" y="418.5" font-size="10.5" fill="#0000ff" text-anchor="middle">L6</text>
<text transform="scale(1.16,1)" x="456.55" y="402.3" font-size="10.5" fill="#0000ff" text-anchor="middle">L1</text>
<text transform="scale(1.16,1)" x="480.30" y="388.3" font-size="10.5" fill="#0000ff" text-anchor="middle">L5</text>
<text transform="scale(1.16,1)" x="517.07" y="419.0" font-size="10.5" fill="#0000ff" text-anchor="middle">L12</text>
<text transform="scale(1.16,1)" x="494.91" y="433.8" font-size="10.5" fill="#0000ff" text-anchor="middle">L15</text>
<text transform="scale(1.16,1)" x="413.66" y="437.0" font-size="10.5" fill="#0000ff" text-anchor="middle">L9</text>
<text transform="scale(1.16,1)" x="393.32" y="441.5" font-size="10.5" fill="#0000ff" text-anchor="middle">L3</text>
<text transform="scale(1.16,1)" x="408.49" y="458.5" font-size="10.5" fill="#0000ff" text-anchor="middle">L7</text>
<text transform="scale(1.16,1)" x="443.66" y="456.3" font-size="10.5" fill="#0000ff" text-anchor="middle">L8</text>
<text transform="scale(1.16,1)" x="442.67" y="471.5" font-size="10.5" fill="#0000ff" text-anchor="middle">JW3382</text>
<text transform="scale(1.16,1)" x="468.88" y="441.5" font-size="10.5" fill="#0000ff" text-anchor="middle">L13</text>
<text transform="scale(1.16,1)" x="491.25" y="456.1" font-size="10.5" fill="#0000ff" text-anchor="middle">L11</text>
<text transform="scale(1.16,1)" x="513.28" y="453.6" font-size="10.5" fill="#0000ff" text-anchor="middle">L2</text>
<text transform="scale(1.16,1)" x="488.58" y="485.3" font-size="10.5" fill="#0000ff" text-anchor="middle">GW322</text>
<text transform="scale(1.16,1)" x="414.83" y="520.9" font-size="10.5" fill="#0000ff" text-anchor="middle">L10</text>
<text transform="scale(1.16,1)" x="370.22" y="352.6" font-size="10.5" fill="#ff0000" text-anchor="middle">HSE3</text>
<text transform="scale(1.16,1)" x="483.49" y="423.2" font-size="10.5" fill="#ff0000" text-anchor="middle">HSE2</text>
<text transform="scale(1.16,1)" x="558.49" y="449.2" font-size="10.5" fill="#ff0000" text-anchor="middle">HSE4</text>
<text transform="scale(1.16,1)" x="371.98" y="549.3" font-size="10.5" fill="#ff0000" text-anchor="middle">HSE1</text>
<rect x="409" y="321" width="274.4" height="236" fill="none" stroke="#111" stroke-width="1.4"/>
<line x1="460.6" y1="557.0" x2="460.6" y2="563.0" stroke="#111" stroke-width="1.2"/>
<text transform="scale(1.16,1)" x="397.07" y="574.3" font-size="12.9" fill="#000" text-anchor="middle">-0.2</text>
<line x1="520.3" y1="557.0" x2="520.3" y2="563.0" stroke="#111" stroke-width="1.2"/>
<text transform="scale(1.16,1)" x="448.53" y="574.3" font-size="12.9" fill="#000" text-anchor="middle">0.0</text>
<line x1="580.0" y1="557.0" x2="580.0" y2="563.0" stroke="#111" stroke-width="1.2"/>
<text transform="scale(1.16,1)" x="500.00" y="574.3" font-size="12.9" fill="#000" text-anchor="middle">0.2</text>
<line x1="639.7" y1="557.0" x2="639.7" y2="563.0" stroke="#111" stroke-width="1.2"/>
<text transform="scale(1.16,1)" x="551.47" y="574.3" font-size="12.9" fill="#000" text-anchor="middle">0.4</text>
<line x1="401.2" y1="375.3" x2="409.0" y2="375.3" stroke="#111" stroke-width="1.2"/>
<text transform="scale(1.16,1)" x="343.10" y="379.5" font-size="12.9" fill="#000" text-anchor="end">0.2</text>
<line x1="401.2" y1="430.9" x2="409.0" y2="430.9" stroke="#111" stroke-width="1.2"/>
<text transform="scale(1.16,1)" x="343.10" y="435.1" font-size="12.9" fill="#000" text-anchor="end">0.0</text>
<line x1="401.2" y1="486.5" x2="409.0" y2="486.5" stroke="#111" stroke-width="1.2"/>
<text transform="scale(1.16,1)" x="343.10" y="490.7" font-size="12.9" fill="#000" text-anchor="end">-0.2</text>
<line x1="401.2" y1="542.1" x2="409.0" y2="542.1" stroke="#111" stroke-width="1.2"/>
<text transform="scale(1.16,1)" x="343.10" y="546.3" font-size="12.9" fill="#000" text-anchor="end">-0.4</text>
<text transform="scale(1.16,1)" x="351.90" y="312.6" font-size="11.6" font-weight="bold" fill="#000" text-anchor="start">(d) AMMI2</text>
<text transform="scale(1.16,1)" x="470.69" y="590.5" font-size="12.9" fill="#000" text-anchor="middle">PC1 (54.3%)</text>
<text transform="translate(365.6,438.7) scale(1.16,1) rotate(-90)" x="0" y="0" font-size="12.9" fill="#000" text-anchor="middle">PC2 (23.9%)</text>
<path d="M622.4,527.3L624.8,525.1L627.2,527.3L624.8,529.5Z" fill="#ff0000"/>
<ellipse cx="624.8" cy="546.5" rx="2.4" ry="1.9" fill="#0000ff"/>
<text transform="scale(1.16,1)" x="554.05" y="531.9" font-size="12.7" fill="#000" text-anchor="start">Env</text>
<text transform="scale(1.16,1)" x="554.05" y="551.1" font-size="12.7" fill="#000" text-anchor="start">Gen</text>
</g>
</svg></body></html>
